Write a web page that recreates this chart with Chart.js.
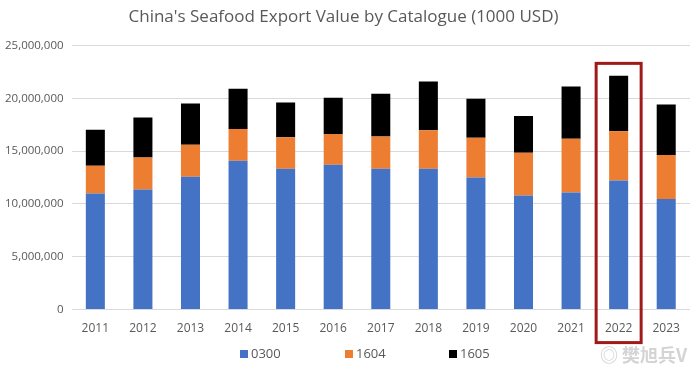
<!DOCTYPE html>
<html>
<head>
<meta charset="utf-8">
<script src="https://cdn.jsdelivr.net/npm/chart.js@4/dist/chart.umd.min.js"></script>
<style>
  html, body { margin: 0; padding: 0; background: #fff; }
  #wrap { position: relative; width: 700px; height: 373px; }
  #legend { position: absolute; top: 344px; left: 0; width: 700px; font: 13px "Open Sans", sans-serif; color: #595959; }
  #legend span { position: absolute; white-space: nowrap; }
  #legend i { display: inline-block; width: 8px; height: 8px; margin-right: 3px; vertical-align: 0px; }
  #mark { position: absolute; left: 600px; top: 341px; font: bold 18px "Noto Sans CJK SC", sans-serif; color: #d4d4d4; }
</style>
</head>
<body>
<div id="wrap">
  <canvas id="mycanvas" width="700" height="373"></canvas>
  <div id="legend"></div>
  <div id="mark">◎ 樊旭兵V</div>
</div>
<script>
var years = ['2011','2012','2013','2014','2015','2016','2017','2018','2019','2020','2021','2022','2023'];
var v0300 = [10980000, 11360000, 12560000, 14080000, 13320000, 13700000, 13320000, 13320000, 12500000, 10790000, 11070000, 12210000, 10470000];
var v1604 = [2630000, 3040000, 3040000, 3010000, 2980000, 2920000, 3070000, 3640000, 3770000, 4050000, 5100000, 4660000, 4150000];
var v1605 = [3420000, 3770000, 3900000, 3800000, 3290000, 3420000, 4030000, 4630000, 3670000, 3490000, 4940000, 5260000, 4780000];
var seriesNames = ['0300', '1604', '1605'];
var seriesColors = ['#4472C4', '#ED7D31', '#000000'];
var highlightYear = '2022';

// red frame around the highlighted year
var frame = {
	id: 'frame',
	afterDraw: function(chart) {
		var x = chart.scales.x, y = chart.scales.y, ctx = chart.ctx;
		var cx = x.getPixelForValue(years.indexOf(highlightYear));
		var top = y.getPixelForValue(23300000);
		var bottom = chart.chartArea.bottom + 33;
		ctx.save();
		ctx.strokeStyle = '#A11A1A';
		ctx.lineWidth = 3;
		ctx.strokeRect(cx - 22.5, top, 45, bottom - top);
		ctx.restore();
	}
};

var chartdata = {
	labels: years,
	datasets: [
		{ label: seriesNames[0], backgroundColor: seriesColors[0], data: v0300 },
		{ label: seriesNames[1], backgroundColor: seriesColors[1], data: v1604 },
		{ label: seriesNames[2], backgroundColor: seriesColors[2], data: v1605 }
	]
};

var barGraph = new Chart(document.getElementById('mycanvas'), {
	type: 'bar',
	data: chartdata,
	plugins: [frame],
	options: {
		responsive: false,
		animation: false,
		datasets: { bar: { categoryPercentage: 1, barPercentage: 0.4 } },
		layout: { padding: { left: -3, right: 10, top: 0, bottom: 33 } },
		plugins: {
			legend: { display: false },
			tooltip: { enabled: false },
			title: {
				display: true,
				text: "China's Seafood Export Value by Catalogue (1000 USD)",
				color: '#595959',
				font: { family: 'Open Sans', size: 17, weight: 'normal' },
				padding: { top: 7, bottom: 18 }
			}
		},
		scales: {
			x: {
				stacked: true,
				grid: { display: false },
				border: { display: false },
				ticks: { color: '#595959', font: { family: 'Open Sans', size: 12 }, padding: 4 }
			},
			y: {
				stacked: true,
				min: 0,
				max: 25000000,
				grid: { color: '#d9d9d9', drawTicks: false },
				border: { display: false },
				ticks: {
					stepSize: 5000000,
					color: '#595959',
					font: { family: 'Open Sans', size: 11.5 },
					padding: 8,
					callback: function(v) { return v.toLocaleString('en-US'); }
				}
			}
		}
	}
});

var legend = document.getElementById('legend');
var legendX = [240, 345, 449];
seriesNames.forEach(function(name, i) {
	var s = document.createElement('span');
	s.style.left = legendX[i] + 'px';
	s.innerHTML = '<i style="background:' + seriesColors[i] + '"></i>' + name;
	legend.appendChild(s);
});
</script>
</body>
</html>
